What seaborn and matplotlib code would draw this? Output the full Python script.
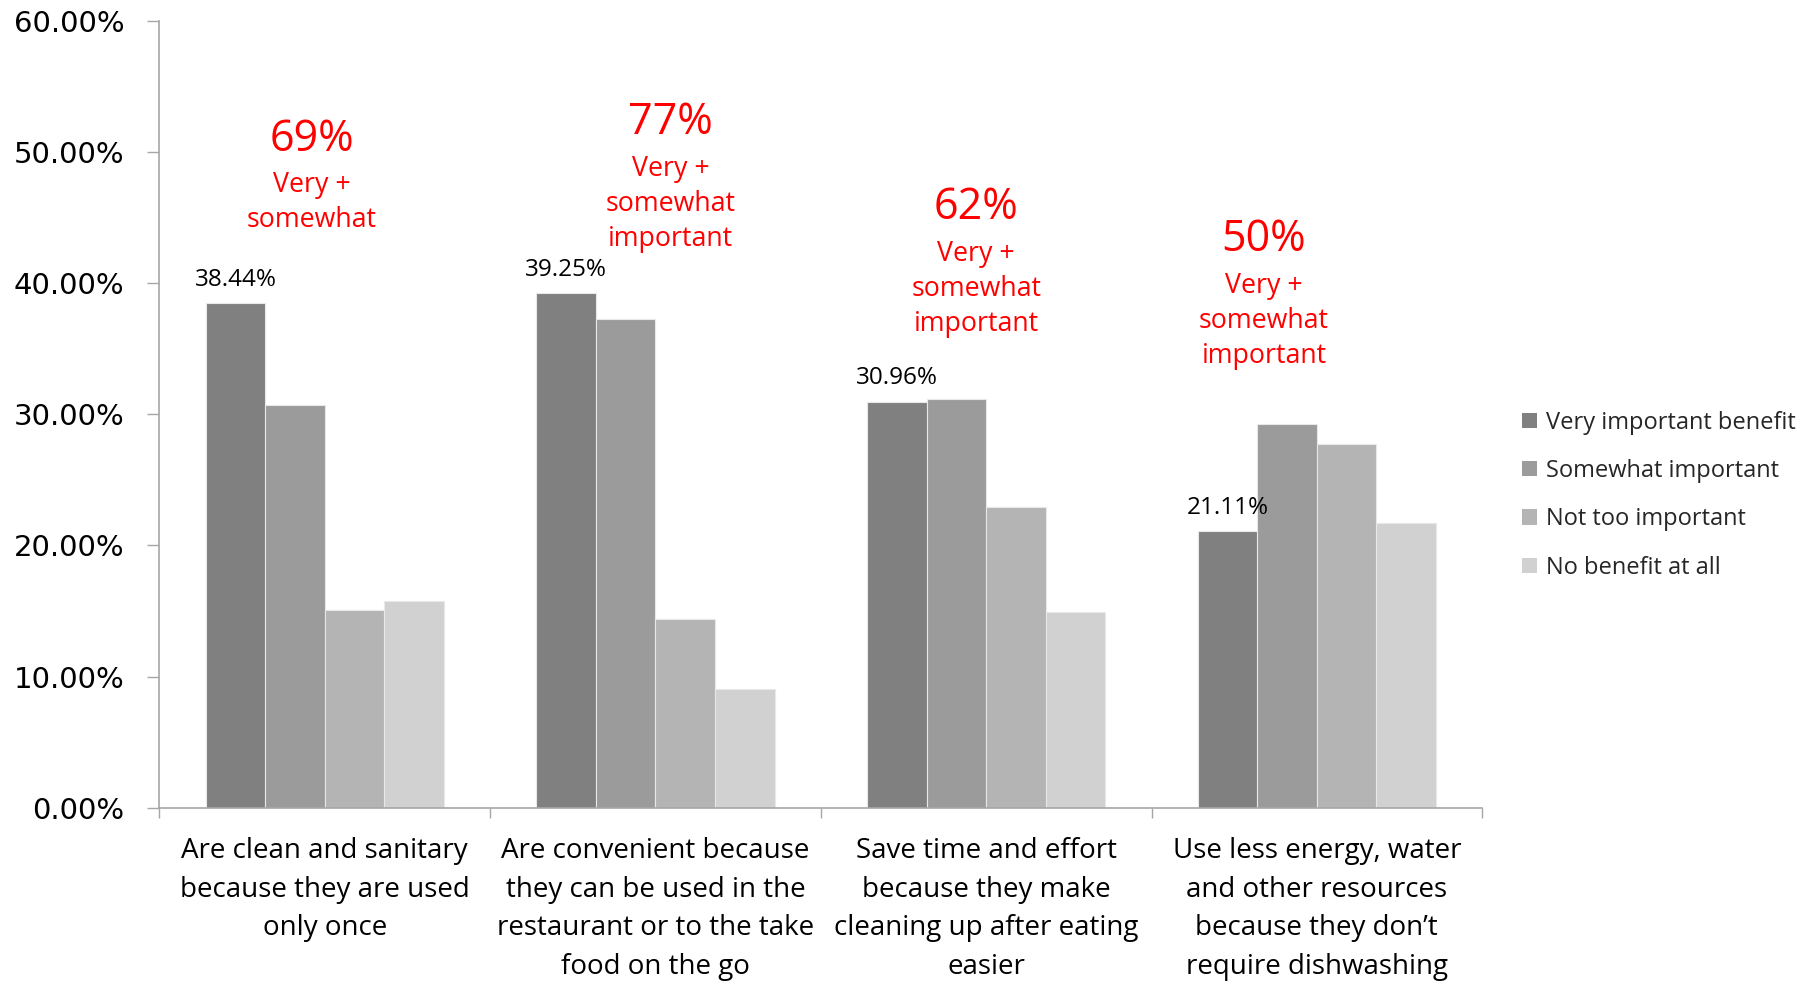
import matplotlib
matplotlib.use("Agg")
import matplotlib.pyplot as plt
from matplotlib.ticker import FuncFormatter, FixedLocator
import seaborn as sns
import pandas as pd

# Survey results: perceived benefits of single-use foodservice items
categories = [
    "Are clean and sanitary\nbecause they are used\nonly once",
    "Are convenient because\nthey can be used in the\nrestaurant or to the take\nfood on the go",
    "Save time and effort\nbecause they make\ncleaning up after eating\neasier",
    "Use less energy, water\nand other resources\nbecause they don\u2019t\nrequire dishwashing",
]
series = ["Very important benefit", "Somewhat important", "Not too important", "No benefit at all"]

very_important = [38.44, 39.25, 30.96, 21.11]
somewhat_important = [30.68, 37.26, 31.17, 29.24]
not_too_important = [15.11, 14.38, 22.92, 27.69]
no_benefit = [15.73, 9.07, 14.89, 21.67]

combined_caption = ["Very +\nsomewhat", "Very +\nsomewhat\nimportant",
                    "Very +\nsomewhat\nimportant", "Very +\nsomewhat\nimportant"]

colors = ["#808080", "#9b9b9b", "#b4b4b4", "#d1d1d1"]

rows = []
for name, vals in zip(series, [very_important, somewhat_important, not_too_important, no_benefit]):
    for cat, v in zip(categories, vals):
        rows.append({"category": cat, "series": name, "value": v})
df = pd.DataFrame(rows)

sns.set_theme(style="white")
plt.rcParams["font.family"] = ["Open Sans", "DejaVu Sans"]

fig = plt.figure(figsize=(18.12, 9.81), dpi=100)
ax = fig.add_axes([0.088, 0.1766, 0.730, 0.8024])

sns.barplot(data=df, x="category", y="value", hue="series", order=categories,
            hue_order=series, palette=colors, saturation=1, width=0.72,
            edgecolor="#e8e8e8", linewidth=0.8, ax=ax)

ax.set_xlim(-0.5, len(categories) - 0.5)
ax.set_ylim(0, 60)
ax.set_xlabel("")
ax.set_ylabel("")

# y axis: percentage ticks in a wide sans face
ax.set_yticks(range(0, 61, 10))
ax.yaxis.set_major_formatter(FuncFormatter(lambda v, _: f"{v:.2f}%"))
for lbl in ax.get_yticklabels():
    lbl.set_fontfamily("DejaVu Sans")
    lbl.set_fontsize(21)
ax.tick_params(axis="y", which="major", left=True, length=8.6, width=1,
               color="#a6a6a6", pad=16.5, labelcolor="black")

# x axis: category labels, separator ticks between groups
ax.set_xticks(range(len(categories)))
ax.set_xticklabels(categories, fontsize=20, linespacing=1.51)
ax.tick_params(axis="x", which="major", length=0, pad=21, labelcolor="black")
ax.xaxis.set_minor_locator(FixedLocator([i - 0.5 for i in range(len(categories) + 1)]))
ax.tick_params(axis="x", which="minor", bottom=True, length=7.5, width=1, color="#a6a6a6")

for side in ["top", "right"]:
    ax.spines[side].set_visible(False)
for side in ["left", "bottom"]:
    ax.spines[side].set_color("#a6a6a6")
    ax.spines[side].set_linewidth(1.2)

# value labels on the "very important" bars
ax.bar_label(ax.containers[0], labels=[f"{v:.2f}%" for v in very_important],
             padding=8, fontsize=17.5, color="black")

# red callouts: very + somewhat important combined
callout_x = [-0.04, 1.045, 1.97, 2.84]
callout_y = [50.95, 52.2, 45.7, 43.3]
for i in range(len(categories)):
    total = round(very_important[i] + somewhat_important[i])
    ax.text(callout_x[i], callout_y[i], f"{total}%", color="#ff0000", fontsize=31,
            ha="center", va="center")
    ax.text(callout_x[i], callout_y[i] - 2.45, combined_caption[i], color="#ff0000",
            fontsize=19.3, ha="center", va="top", linespacing=1.33)

leg = ax.legend(loc="center left", bbox_to_anchor=(1.014, 0.397), frameon=False,
                fontsize=17, handlelength=0.62, handleheight=0.62, handletextpad=0.4,
                labelspacing=1.03)
for h in leg.legend_handles:
    h.set_edgecolor("none")

fig.savefig("out.png", dpi=100, facecolor="white")
